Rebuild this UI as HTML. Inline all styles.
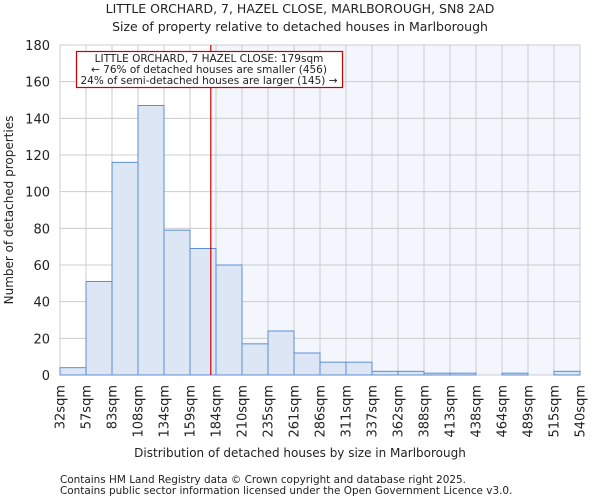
<!DOCTYPE html>
<html><head><meta charset="utf-8"><style>
body{margin:0;background:#fff;font-family:"DejaVu Sans","Liberation Sans",sans-serif;}
svg text{font-family:"DejaVu Sans","Liberation Sans",sans-serif;fill:#222;}
</style></head><body>
<svg id="c" width="600" height="500">
<text x="300" y="13" font-size="12.5" text-anchor="middle">LITTLE ORCHARD, 7, HAZEL CLOSE, MARLBOROUGH, SN8 2AD</text>
<text x="300" y="31" font-size="12.5" text-anchor="middle">Size of property relative to detached houses in Marlborough</text>
<g id="plot"></g>
<text x="300" y="457" font-size="12" text-anchor="middle">Distribution of detached houses by size in Marlborough</text>
<text transform="translate(13,210) rotate(-90)" font-size="12" text-anchor="middle">Number of detached properties</text>
<text x="60" y="483" font-size="10.45" fill="#444">Contains HM Land Registry data © Crown copyright and database right 2025.</text>
<text x="60" y="494" font-size="10.45" fill="#444">Contains public sector information licensed under the Open Government Licence v3.0.</text>
</svg>
<script>
const edgeLabels=["32sqm","57sqm","83sqm","108sqm","134sqm","159sqm","184sqm","210sqm","235sqm","261sqm","286sqm","311sqm","337sqm","362sqm","388sqm","413sqm","438sqm","464sqm","489sqm","515sqm","540sqm"];
const counts=[4,51,116,147,79,69,60,17,24,12,7,7,2,2,1,1,0,1,0,2];
const yTicks=[0,20,40,60,80,100,120,140,160,180];
const propertySize=179;
const edgeValues=[32,57,83,108,134,159,184,210,235,261,286,311,337,362,388,413,438,464,489,515,540];
const X0=60,X1=580,Y0=375,Y1=45,YMAX=180;
const n=counts.length,bw=(X1-X0)/n;
const xi=i=>X0+i*bw;
const y=v=>Y0-(v/YMAX)*(Y0-Y1);
function xv(v){for(let i=0;i<edgeValues.length-1;i++){if(v<=edgeValues[i+1]){return xi(i)+(v-edgeValues[i])/(edgeValues[i+1]-edgeValues[i])*bw;}}return X1;}
const g=document.getElementById('plot');const NS='http://www.w3.org/2000/svg';
function mk(t,a){const e=document.createElementNS(NS,t);for(const k in a)e.setAttribute(k,a[k]);g.appendChild(e);return e;}
const mx=xv(propertySize);
let e=mk('rect',{x:mx,y:Y1,width:X1-mx,height:Y0-Y1,fill:'#f3f6fd'});


yTicks.forEach(t=>{let l=mk('line',{x1:X0,x2:X1,y1:y(t),y2:y(t),stroke:'#cccccc','stroke-width':1});


let tx=mk('text',{x:X0-10,y:y(t)+5,'font-size':13,'text-anchor':'end'});tx.textContent=t;

});
edgeLabels.forEach((lab,i)=>{let l=mk('line',{x1:xi(i),x2:xi(i),y1:Y1,y2:Y0,stroke:'#cccccc','stroke-width':1});


let tx=mk('text',{transform:`translate(${xi(i)+4.5},385) rotate(-90)`,'font-size':13,'text-anchor':'end'});tx.textContent=lab;

});
counts.forEach((c,i)=>{if(c<=0)return;let r=mk('rect',{x:xi(i),y:y(c),width:bw,height:Y0-y(c),fill:'#dce6f4',stroke:'#5b8fd6','stroke-width':1});

});
e=mk('line',{x1:mx,x2:mx,y1:Y1,y2:Y0,stroke:'#cc0000','stroke-width':1.2});


e=mk('rect',{x:76.5,y:51.5,width:266,height:36,fill:'#fff',stroke:'#cc0000','stroke-width':1.2});


["LITTLE ORCHARD, 7 HAZEL CLOSE: 179sqm","← 76% of detached houses are smaller (456)","24% of semi-detached houses are larger (145) →"].forEach((s,k)=>{let t=mk('text',{x:209,y:62+k*11,'font-size':10.5,'text-anchor':'middle'});t.textContent=s;

});
</script>
</body></html>
